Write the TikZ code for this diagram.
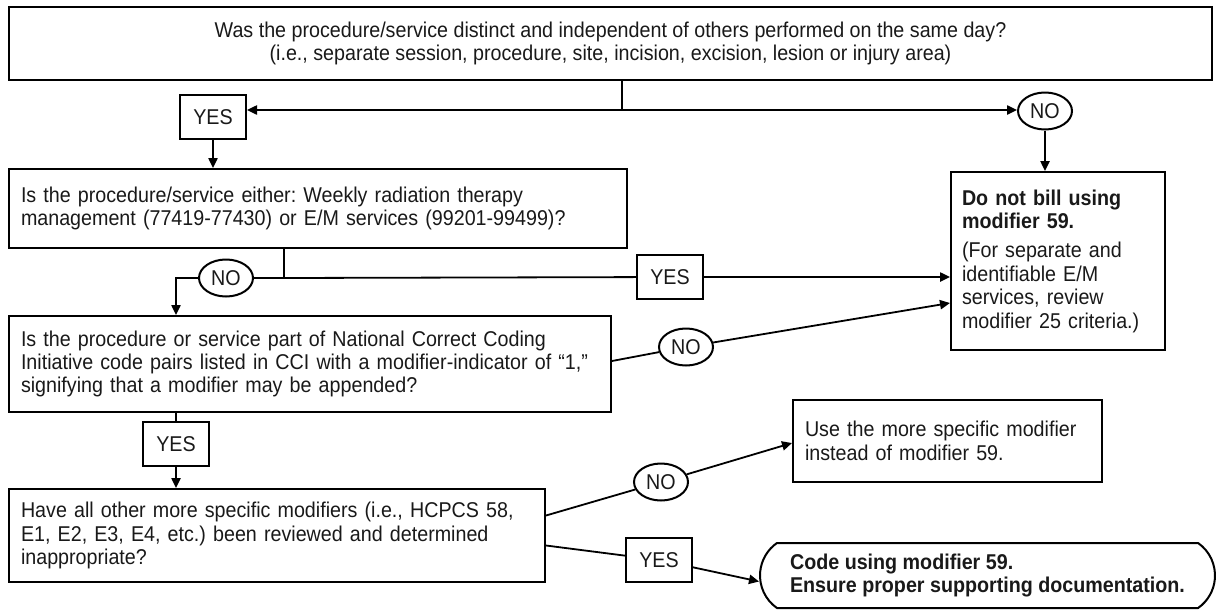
\documentclass[tikz,border=0pt]{standalone}
\usepackage{fontspec}
\setmainfont{Liberation Sans}[FakeStretch=0.92]
\usetikzlibrary{arrows.meta,shapes.geometric,shapes.misc,calc}
\frenchspacing

\begin{document}
\begin{tikzpicture}[x=0.5pt,y=-0.5pt]
\tikzstyle{every node}+=[font=\fontsize{10.7}{11.7}\selectfont,line width=1pt,text=black!90]
\tikzstyle{qbox}=[draw,rectangle,inner xsep=6pt,inner ysep=0pt,align=left]
\tikzstyle{yesbox}=[draw,rectangle,minimum width=33pt,minimum height=22pt,inner sep=0pt]
\tikzstyle{nooval}=[draw,ellipse,minimum width=27pt,minimum height=18.5pt,inner sep=0pt]
\tikzstyle{link}=[line width=0.9pt]
\tikzstyle{arr}=[link,-{Triangle[length=5pt,width=4.6pt]}]
\useasboundingbox (0,0) rectangle (1221,611);
\node [qbox,align=center,minimum width=601.5pt,minimum height=36.5pt] (q1) at (610.5,43.5)
  {Was the procedure/service distinct and independent of others performed on the same day?\\
   (i.e., separate session, procedure, site, incision, excision, lesion or injury area)};
\node [qbox,text width=297pt,minimum height=39.5pt] (q2) at (318,208.5)
  {Is the procedure/service either: Weekly radiation therapy\\
   management (77419-77430) or E/M services (99201-99499)?};
\node [qbox,text width=289pt,minimum height=48pt] (q3) at (310,364)
  {Is the procedure or service part of National Correct Coding\\
   Initiative code pairs listed in CCI with a modifier-indicator of ``1,''\\
   signifying that a modifier may be appended?};
\node [qbox,text width=256pt,minimum height=46.5pt] (q4) at (277,535.5)
  {Have all other more specific modifiers (i.e., HCPCS 58,\\
   E1, E2, E3, E4, etc.) been reviewed and determined\\
   inappropriate?};
\node [qbox,text width=96pt,inner xsep=5.5pt,minimum height=89pt] (nobill) at (1058,261)
  {\textbf{Do not bill using}\\ \textbf{modifier 59.}\\[3pt]
   (For separate and\\ identifiable E/M\\ services, review\\ modifier 25 criteria.)};
\node [qbox,text width=142.5pt,minimum height=41pt] (usebox) at (947.5,441)
  {Use the more specific modifier\\ instead of modifier 59.};
\node [draw,rounded rectangle,rounded rectangle arc length=110,align=left,inner sep=0pt,
  minimum width=227.5pt,minimum height=32.5pt] (codebox) at (987.5,575.5)
  {\textbf{Code using modifier 59.}\\ \textbf{Ensure proper supporting documentation.}};
\node [yesbox] (yes1) at (213,117) {YES};
\node [nooval] (no1) at (1045,111) {NO};
\node [nooval] (no2) at (226,278) {NO};
\node [yesbox] (yes2) at (670,277) {YES};
\node [nooval] (no3) at (686,347) {NO};
\node [yesbox] (yes4) at (176,444) {YES};
\node [nooval] (no4) at (661,482) {NO};
\node [yesbox] (yes3) at (659,560) {YES};
\coordinate (j1) at (622,110);
\coordinate (j2) at (284,278);
\coordinate (j3) at (176,278);
\draw [link] (q1.south -| j1) -- (j1);
\draw [arr] (j1) -- (j1 -| yes1.east);
\draw [arr] (j1) -- (j1 -| no1.west);
\draw [arr] (no1) -- (no1 |- nobill.north);
\draw [arr] (yes1) -- (yes1 |- q2.north);
\draw [link] (q2.south -| j2) -- (j2) -- (no2);
\draw [arr] (no2) -- (j3) -- (j3 |- q3.north);
\draw [link] (j2) -- (yes2);
\draw [arr] (yes2) -- (yes2 -| nobill.west);
\draw [link] ($(q3.east)+(0,-3)$) -- (no3);
\draw [arr] (no3) -- ($(nobill.west)+(0,42)$);
\draw [link] (q3.south -| yes4) -- (yes4);
\draw [arr] (yes4) -- (yes4 |- q4.north);
\draw [link] ($(q4.east)+(0,-20)$) -- (no4);
\draw [arr] (no4) -- ($(usebox.west)+(0,2)$);
\draw [link] ($(q4.east)+(0,10)$) -- (yes3);
\draw [arr] (yes3) -- ($(codebox.west)+(0,6)$);
\end{tikzpicture}
\end{document}
